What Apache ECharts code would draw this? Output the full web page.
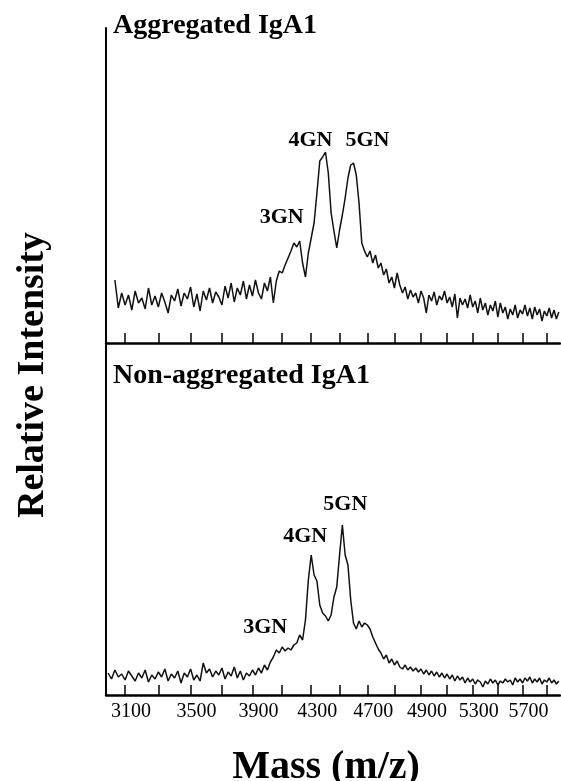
<!DOCTYPE html>
<html>
<head>
<meta charset="utf-8">
<script src="https://cdn.jsdelivr.net/npm/echarts@6/dist/echarts.min.js"></script>
<style>
html,body{margin:0;padding:0;background:#fff;}
#chart{width:561px;height:781px;}
</style>
</head>
<body>
<div id="chart"></div>
<script>
// ---- Data (relative intensity, arbitrary units), sampled every 20 Da ----
const massStep = 20;
const aggregatedStart = 3040;
const aggregated = [
  63, 35, 50,
  38, 48, 33, 52, 40, 45, 34, 55, 38, 47,
  36, 50, 41, 30, 48, 42, 54, 37, 50, 44,
  56, 36, 49, 32, 52, 43, 55, 40, 51, 46,
  38, 57, 45, 60, 41, 55, 48, 62, 44, 58,
  47, 63, 50, 44, 60, 52, 66, 40, 62, 72,
  70, 78, 85, 92, 100, 96, 102, 80, 66, 90,
  105, 120, 150, 182, 186, 191, 170, 130, 112, 95,
  113, 128, 145, 165, 178, 180, 168, 140, 100, 92,
  86, 92, 80, 88, 75, 80, 68, 74, 60, 66,
  55, 70, 58, 50, 56, 44, 53, 46, 50, 40,
  52, 45, 30, 48, 42, 51, 38, 47, 43, 52,
  40, 46, 36, 49, 25, 45, 38, 44, 35, 48,
  36, 42, 30, 45, 33, 40, 28, 38, 32, 42,
  26, 40, 30, 36, 24, 34, 28, 38, 25, 33,
  29, 38, 27, 35, 24, 36, 28, 34, 22, 32,
  27, 35, 25, 33, 24, 31
];
const nonAggregatedStart = 3000;
const nonAggregated = [
  22, 16, 25, 18, 21,
  15, 24, 19, 14, 22, 17, 25, 13, 20, 16,
  23, 18, 26, 14, 21, 17, 24, 12, 22, 18,
  26, 15, 20, 14, 32, 22, 26, 18, 24, 20,
  27, 16, 23, 19, 28, 17, 24, 15, 22, 19,
  25, 20, 27, 22, 30, 25, 33, 38, 45, 42,
  48, 44, 47, 45, 50, 52, 60, 55, 75, 115,
  140, 120, 114, 90, 82, 79, 74, 80, 98, 108,
  140, 170, 140, 130, 95, 72, 66, 74, 68, 72,
  70, 66, 58, 52, 46, 42, 36, 40, 32, 36,
  30, 34, 28, 26, 30, 25, 28, 24, 27, 23,
  26, 21, 25, 20, 24, 19, 23, 18, 22, 17,
  21, 16, 20, 14, 19, 15, 18, 12, 17, 13,
  16, 11, 15, 13, 8, 14, 11, 16, 12, 15,
  10, 14, 12, 16, 13, 15, 10, 17, 13, 16,
  12, 17, 14, 18, 12, 16, 13, 17, 11, 15,
  13, 17, 12, 15, 11, 14
];
// axis ticks (mass) and printed tick labels as they appear in the figure
const tickMasses = [3100,3300,3500,3700,3900,4100,4300,4500,4700,4900,5100,5300,5500,5700,5900,6100];
const labelMasses = [3100,3500,3900,4300,4700,5100,5500,5900];
const labelTexts = ['3100','3500','3900','4300','4700','4900','5300','5700'];
// peak annotations: name, peak mass, peak intensity
const aggregatedPeaks = [['3GN',4220,102],['4GN',4400,191],['5GN',4600,180]];
const nonAggregatedPeaks = [['3GN',4100,48],['4GN',4300,140],['5GN',4520,170]];
const massMin = 2988, massMax = 6210;

// ---- Build ----
// time-of-flight style axis: position proportional to sqrt(mass)
const tof = m => Math.sqrt(m);
function toSeries(start, arr){ return arr.map((v,i)=>[tof(start + i*massStep), v]); }
const labelMap = {};
labelMasses.forEach((m,i)=>{ labelMap[m] = labelTexts[i]; });

const serif = '"Liberation Serif", "DejaVu Serif", serif';
const topOffsets = [[-18,-24],[-15,-12],[14,-23]];
const botOffsets = [[-17,-20],[-6,-19],[3,-21]];
function peakMarks(peaks, offsets){
  return {
    symbol:'circle', symbolSize:0, silent:true,
    data: peaks.map((p,i)=>({
      name:p[0], coord:[tof(p[1]), p[2]],
      label:{show:true, position:'inside', offset:offsets[i], formatter:p[0],
        color:'#000', fontFamily:serif, fontWeight:'bold', fontSize:22}
    }))
  };
}

function xAxis(gridIndex, showLabels){
  return {
    type:'value', gridIndex, min:tof(massMin), max:tof(massMax),
    axisLine:{show:true, onZero:false, lineStyle:{color:'#000', width:2.5}},
    axisTick:{show:true, inside:true, length:10, customValues:tickMasses.map(tof),
      lineStyle:{color:'#000', width:1.5}},
    axisLabel:{show:showLabels, customValues:labelMasses.map(tof), margin:7,
      padding:[0,0,0,12],
      color:'#000', fontFamily:serif, fontSize:20,
      formatter: v => labelMap[Math.round(v*v/100)*100] || ''},
    splitLine:{show:false}
  };
}
function yAxis(gridIndex, max){
  return {
    type:'value', gridIndex, min:0, max,
    axisLine:{show:true, lineStyle:{color:'#000', width:2}},
    axisTick:{show:false}, axisLabel:{show:false}, splitLine:{show:false}
  };
}

const chart = echarts.init(document.getElementById('chart'), null, {renderer:'canvas'});
chart.setOption({
  backgroundColor:'#fff',
  animation:false,
  grid:[
    {left:106, right:1, top:28, height:315},
    {left:106, right:1, top:345, height:350}
  ],
  xAxis:[xAxis(0,false), xAxis(1,true)],
  yAxis:[yAxis(0,315), yAxis(1,350)],
  series:[
    {type:'line', xAxisIndex:0, yAxisIndex:0, data:toSeries(aggregatedStart, aggregated),
      showSymbol:false, lineStyle:{color:'#111', width:1.5}, markPoint:peakMarks(aggregatedPeaks, topOffsets)},
    {type:'line', xAxisIndex:1, yAxisIndex:1, data:toSeries(nonAggregatedStart, nonAggregated),
      showSymbol:false, lineStyle:{color:'#111', width:1.5}, markPoint:peakMarks(nonAggregatedPeaks, botOffsets)}
  ],
  graphic:[
    {type:'text', left:113, top:12, style:{text:'Aggregated IgA1', fill:'#000',
      font:'bold 28px ' + serif}},
    {type:'text', left:113, top:362, style:{text:'Non-aggregated IgA1', fill:'#000',
      font:'bold 28px ' + serif}},
    {type:'text', x:33, y:375, rotation:Math.PI/2, style:{text:'Relative Intensity', fill:'#000',
      font:'bold 38px ' + serif, textAlign:'center', textVerticalAlign:'middle'}},
    {type:'text', x:326, y:768, style:{text:'Mass (m/z)', fill:'#000',
      font:'bold 40px ' + serif, textAlign:'center', textVerticalAlign:'middle'}}
  ]
});
</script>
</body>
</html>
